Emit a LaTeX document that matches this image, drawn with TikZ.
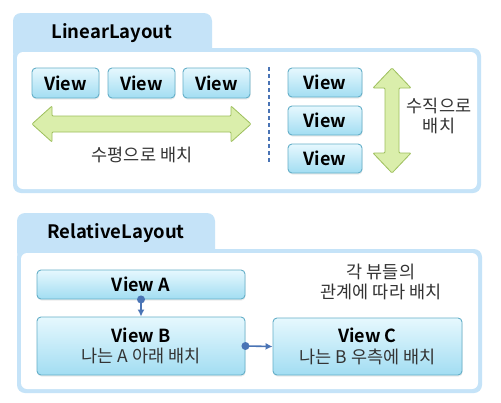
\documentclass[tikz,border=0pt]{standalone}
\usepackage{fontspec}
\setmainfont{Noto Sans CJK KR}[BoldFont={Noto Sans CJK KR Bold}]
\usetikzlibrary{arrows.meta,shadows}
\definecolor{panelblue}{HTML}{C5E3F8}
\definecolor{boxtop}{HTML}{E6F8FE}
\definecolor{boxbot}{HTML}{A2DDF2}
\definecolor{boxline}{HTML}{64AFC8}
\definecolor{arrowfill}{HTML}{DAEEAB}
\definecolor{arrowline}{HTML}{9DBF5C}
\definecolor{linkblue}{HTML}{4A74B5}
\definecolor{textgray}{HTML}{333333}
\begin{document}
\begin{tikzpicture}[x=1pt, y=-1pt,
  panel/.style={fill=panelblue, rounded corners=8pt},
  innerbox/.style={fill=white, rounded corners=6pt},
  title/.style={font=\fontsize{18.5}{22}\selectfont\bfseries},
  viewbox/.style={draw=boxline, line width=0.9pt, rounded corners=4pt, top color=boxtop, bottom color=boxbot,
    inner sep=0pt, align=center, font=\fontsize{18}{20.5}\selectfont\bfseries,
    drop shadow={opacity=0.15, shadow xshift=0.5pt, shadow yshift=-1.5pt}},
  note/.style={font=\fontsize{17.5}{19.5}\selectfont, text=textgray, align=center},
  bigarrow/.style={fill=arrowfill, draw=arrowline, line width=0.8pt, rounded corners=1pt},
  link/.style={draw=linkblue, line width=1.6pt, -{Latex[length=7pt,width=7pt]}}]
  \fill[white] (0,0) rectangle (501,402);
  \useasboundingbox (0,0) rectangle (501,402);

  % LinearLayout panel
  \fill[panel] (13,13) rectangle (212,60);
  \fill[panel] (13,48) rectangle (481,193);
  \fill[innerbox] (17,52) rectangle (477,189);
  \node[title] (lintitle) at (112,33) {LinearLayout};
  \foreach \n/\x in {1/65.5, 2/141.5, 3/216.5}
    \node[viewbox, minimum width=67pt, minimum height=30pt] (h\n) at (\x,83) {View};
  \draw[bigarrow] (32,124) -- (52,106) -- (52,116) -- (231,116) -- (231,106) -- (251,124)
    -- (231,142) -- (231,132) -- (52,132) -- (52,142) -- cycle;
  \node[note] (hlabel) at (142,155) {수평으로 배치};
  \draw[linkblue, line width=1.5pt, dash pattern=on 4pt off 3pt] (269,67) -- (269,163);
  \foreach \n/\y in {1/82.5, 2/120.5, 3/158.5}
    \node[viewbox, minimum width=74pt, minimum height=29pt] (v\n) at (325,\y) {View};
  \draw[bigarrow] (392,68) -- (411,88) -- (399,88) -- (399,153) -- (411,153) -- (392,173)
    -- (373,153) -- (385,153) -- (385,88) -- (373,88) -- cycle;
  \node[note] (vlabel) at (439,116) {수직으로\\배치};

  % RelativeLayout panel
  \fill[panel] (17,213) rectangle (215,260);
  \fill[panel] (17,249) rectangle (482,393);
  \fill[innerbox] (21,253) rectangle (478,389);
  \node[title] (reltitle) at (116,233) {RelativeLayout};
  \node[viewbox, minimum width=208pt, minimum height=29pt] (a) at (141,284.5) {View A};
  \node[viewbox, minimum width=208pt, minimum height=58pt] (b) at (141,346)
    {View B\\{\mdseries\color{textgray}\fontsize{17.5}{20}\selectfont 나는 A 아래 배치}};
  \node[viewbox, minimum width=189pt, minimum height=57pt] (c) at (367.5,346.5)
    {View C\\{\mdseries\color{textgray}\fontsize{17.5}{20}\selectfont 나는 B 우측에 배치}};
  \node[note] (relnote) at (381,282) {각 뷰들의\\관계에 따라 배치};
  \fill[linkblue] (a.south) circle (4pt);
  \draw[link] (a.south) -- (b.north);
  \fill[linkblue] (b.east) circle (4pt);
  \draw[link] (b.east) -- (c.west);
\end{tikzpicture}
\end{document}
